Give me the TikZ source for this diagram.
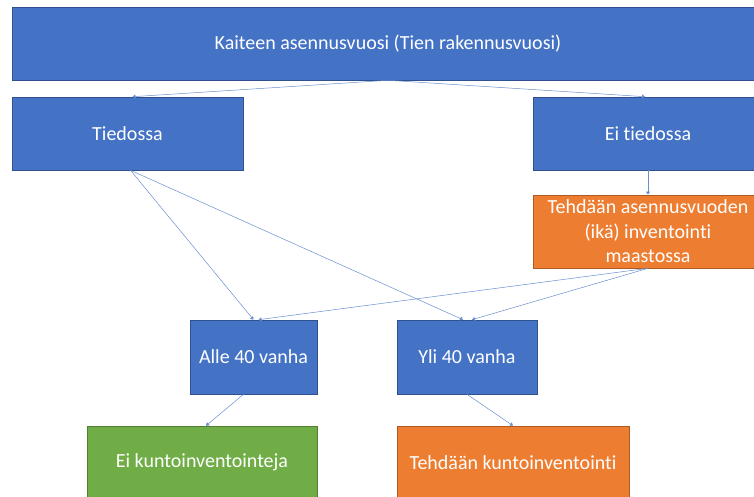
\documentclass[tikz,border=0pt]{standalone}
\usepackage{fontspec}
\setmainfont{Carlito}[Ligatures={NoCommon}]
\usetikzlibrary{arrows.meta}

\definecolor{officeblue}{HTML}{4472C4}
\definecolor{blueline}{HTML}{2F528F}
\definecolor{officeorange}{HTML}{ED7D31}
\definecolor{orangeline}{HTML}{AE5A21}
\definecolor{officegreen}{HTML}{70AD47}
\definecolor{greenline}{HTML}{507E32}

\begin{document}
\begin{tikzpicture}[x=1pt,y=-1pt,
    box/.style={draw=blueline,fill=officeblue,line width=0.6pt,text=white,
        font=\fontsize{20}{24.5}\selectfont,align=center,inner sep=0pt},
    conn/.style={draw=officeblue!80,line width=0.5pt,-{Triangle[width=4pt,length=3pt]}}]
\clip (0,0) rectangle (754,497);

\node[box,minimum width=752pt,minimum height=73pt] (year) at (388,43.5)
    {Kaiteen asennusvuosi (Tien rakennusvuosi)};
\node[box,minimum width=231pt,minimum height=73pt] (known) at (127.5,133.5) {Tiedossa};
\node[box,minimum width=230pt,minimum height=73pt] (unknown) at (648,133.5) {Ei tiedossa};
\node[box,draw=orangeline,fill=officeorange,minimum width=230pt,minimum height=73pt]
    (survey) at (648,231.5) {Tehdään asennusvuoden\\(ikä) inventointi\\maastossa};
\node[box,minimum width=127pt,minimum height=74pt] (young) at (253.5,357) {Alle 40 vanha};
\node[box,minimum width=140pt,minimum height=74pt] (old) at (467,357) {Yli 40 vanha};
\node[box,draw=greenline,fill=officegreen,minimum width=230pt,minimum height=73pt]
    (noinsp) at (202,462.5) {Ei kuntoinventointeja};
\node[box,draw=orangeline,fill=officeorange,minimum width=232pt,minimum height=73pt]
    (insp) at (513,462.5) {Tehdään kuntoinventointi};

% connectors
\draw[conn] (year.south) -- ([xshift=5pt]known.north);
\draw[conn] (year.south) -- ([xshift=-3pt]unknown.north);
\draw[conn] (unknown.south) -- (survey.north);
\draw[conn] ([xshift=3pt]known.south) -- (young.north);
\draw[conn] ([xshift=3pt]known.south) -- ([xshift=-4pt]old.north);
\draw[conn] (survey.south) -- ([xshift=5pt]young.north);
\draw[conn] (survey.south) -- ([xshift=5pt]old.north);
\draw[conn] ([xshift=-10pt]young.south) -- ([xshift=4pt]noinsp.north);
\draw[conn] (old.south) -- (insp.north);
\end{tikzpicture}
\end{document}
